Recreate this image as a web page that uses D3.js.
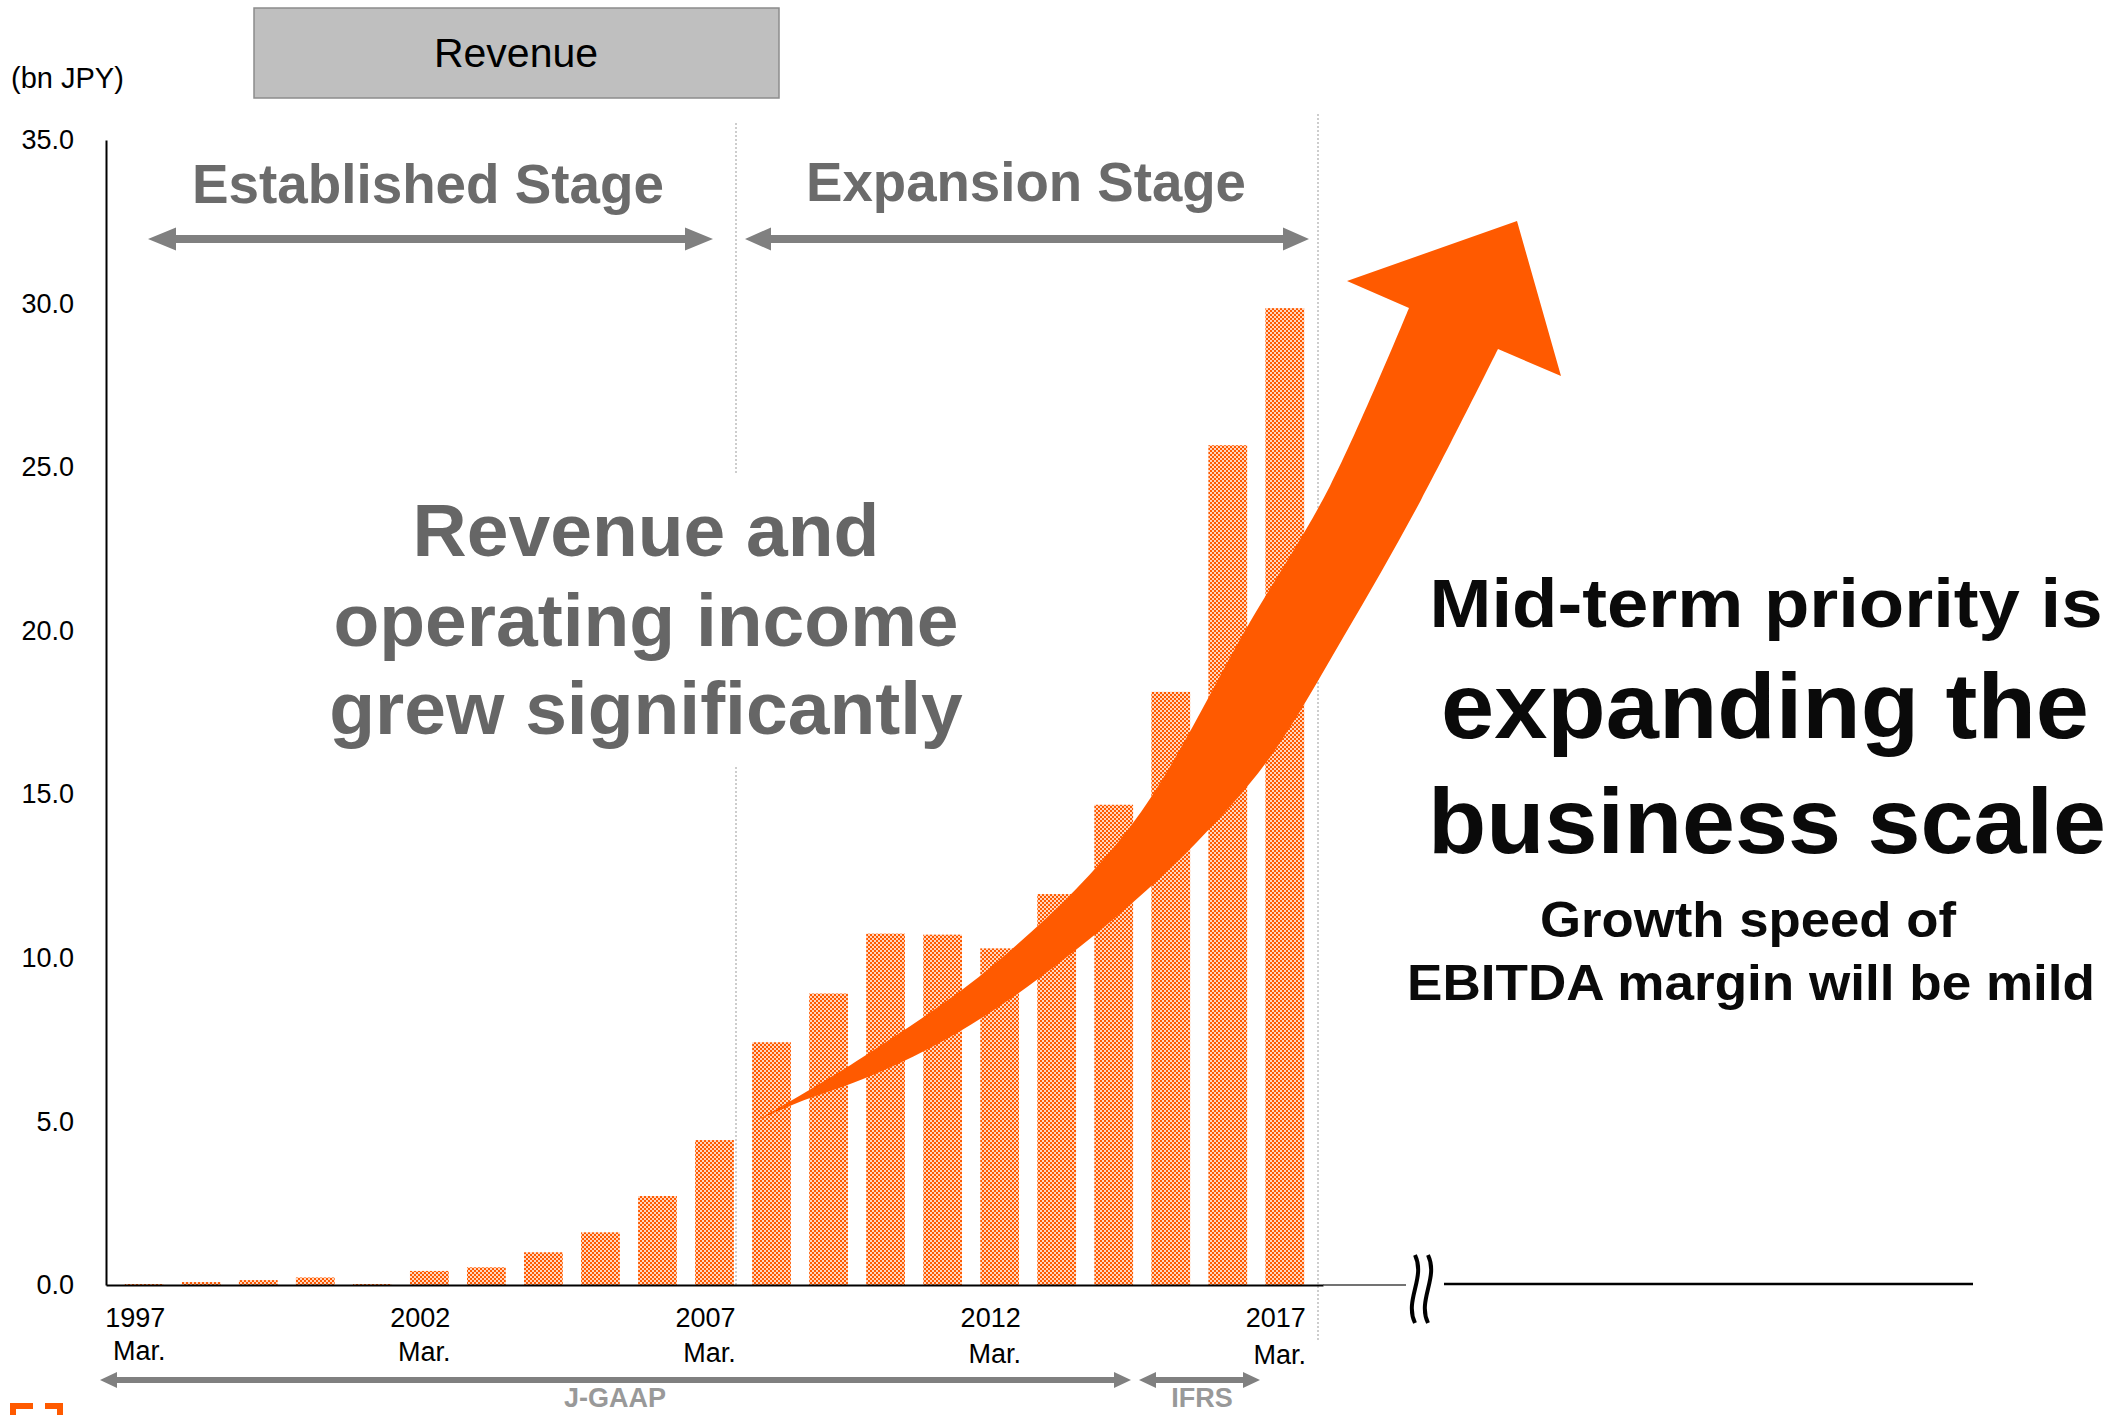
<!DOCTYPE html>
<html>
<head>
<meta charset="utf-8">
<script src="https://cdn.jsdelivr.net/npm/d3@7"></script>
<style>
  html, body { margin: 0; padding: 0; background: #ffffff; }
  svg { display: block; font-family: "Liberation Sans", Arial, sans-serif; }
</style>
</head>
<body>
<svg id="chart" width="2127" height="1415"></svg>
<script>
// ---------------- data ----------------
const fiscalYears = ["1997","1998","1999","2000","2001","2002","2003","2004","2005","2006","2007",
                     "2008","2009","2010","2011","2012","2013","2014","2015","2016","2017"];
const revenue = [0.03, 0.09, 0.15, 0.23, 0.03, 0.43, 0.54, 1.00, 1.61, 2.72, 4.43,
                 7.42, 8.91, 10.74, 10.71, 10.29, 11.95, 14.68, 18.13, 25.67, 29.86];
const yTicks = [0, 5, 10, 15, 20, 25, 30, 35];
const xLabelYears = ["1997", "2002", "2007", "2012", "2017"];
const xLabelSub = "Mar.";
const unitLabel = "(bn JPY)";
const boxTitle = "Revenue";
const stageLabels = ["Established Stage", "Expansion Stage"];
const centerText = ["Revenue and", "operating income", "grew significantly"];
const rightText = ["Mid-term priority is", "expanding the", "business scale", "Growth speed of", "EBITDA margin will be mild"];
const gaapLabels = ["J-GAAP", "IFRS"];

// ---------------- setup ----------------
const ORANGE = "#FF5A00";
const GREY_ARROW = "#808080";
const svg = d3.select("#chart");
const defs = svg.append("defs");
const pat = defs.append("pattern").attr("id", "chk")
  .attr("patternUnits", "userSpaceOnUse").attr("width", 4).attr("height", 4);
pat.append("rect").attr("width", 4).attr("height", 4).attr("fill", "#FFD6BE");
pat.append("rect").attr("x", 0).attr("y", 0).attr("width", 2).attr("height", 2).attr("fill", ORANGE);
pat.append("rect").attr("x", 2).attr("y", 2).attr("width", 2).attr("height", 2).attr("fill", ORANGE);

const x = d3.scaleBand().domain(fiscalYears).range([106, 1323]).paddingInner(0.32).paddingOuter(0.33);
const y = d3.scaleLinear().domain([0, 35]).range([1285, 140]);

// ---------------- dotted stage separators ----------------
svg.append("line").attr("x1", 736).attr("x2", 736).attr("y1", 123).attr("y2", y(0))
  .attr("stroke", "#BDBDBD").attr("stroke-width", 1.5).attr("stroke-dasharray", "2,2");
svg.append("line").attr("x1", 1318).attr("x2", 1318).attr("y1", 114).attr("y2", 1340)
  .attr("stroke", "#BDBDBD").attr("stroke-width", 1.5).attr("stroke-dasharray", "2,2");

// ---------------- bars ----------------
svg.append("g").selectAll("rect").data(fiscalYears).join("rect")
  .attr("x", d => x(d))
  .attr("width", x.bandwidth())
  .attr("y", (d, i) => y(revenue[i]))
  .attr("height", (d, i) => y(0) - y(revenue[i]))
  .attr("fill", "url(#chk)");

// ---------------- axes ----------------
const yAxis = svg.append("g").attr("transform", "translate(106,0)")
  .call(d3.axisLeft(y).tickValues(yTicks).tickSize(0).tickSizeOuter(0).tickPadding(32).tickFormat(d3.format(".1f")));
yAxis.select(".domain").attr("stroke", "#000").attr("stroke-width", 2);
yAxis.selectAll("text").attr("font-size", 27).attr("fill", "#000")
  .attr("font-family", "Liberation Sans, Arial, sans-serif");

const xAxis = svg.append("g").attr("transform", `translate(0,${y(0)})`)
  .call(d3.axisBottom(x).tickValues(xLabelYears).tickSize(0).tickSizeOuter(0).tickFormat(""));
xAxis.select(".domain").attr("stroke", "#000").attr("stroke-width", 2);
xAxis.selectAll(".tick").each(function(d, i) {
  const g = d3.select(this);
  g.append("text").attr("x", -9).attr("y", 42).attr("text-anchor", "middle")
    .attr("font-size", 27).attr("fill", "#000").text(d);
  g.append("text").attr("x", -5).attr("y", 75 + i).attr("text-anchor", "middle")
    .attr("font-size", 27).attr("fill", "#000").text(xLabelSub);
});

// baseline continuation + break mark
svg.append("line").attr("x1", 1323).attr("x2", 1406).attr("y1", y(0)).attr("y2", y(0))
  .attr("stroke", "#444").attr("stroke-width", 1.5);
svg.append("line").attr("x1", 1444).attr("x2", 1973).attr("y1", y(0) - 1).attr("y2", y(0) - 1)
  .attr("stroke", "#000").attr("stroke-width", 2.5);
[1415, 1428].forEach(bx => {
  svg.append("path")
    .attr("d", `M${bx},1255 C${bx + 11},1278 ${bx - 11},1300 ${bx},1323`)
    .attr("fill", "none").attr("stroke", "#000").attr("stroke-width", 4);
});

// ---------------- labels top ----------------
svg.append("text").attr("x", 11).attr("y", 88).attr("font-size", 29).attr("fill", "#000").text(unitLabel);

svg.append("rect").attr("x", 254).attr("y", 8).attr("width", 525).attr("height", 90)
  .attr("fill", "#BFBFBF").attr("stroke", "#8C8C8C").attr("stroke-width", 1.5);
svg.append("text").attr("x", 516).attr("y", 67).attr("text-anchor", "middle")
  .attr("font-size", 41).attr("fill", "#000").text(boxTitle);

svg.append("text").attr("x", 428).attr("y", 203).attr("text-anchor", "middle")
  .attr("font-size", 56).attr("font-weight", "bold").attr("fill", "#6B6B6B")
  .attr("textLength", 472).attr("lengthAdjust", "spacingAndGlyphs").text(stageLabels[0]);
svg.append("text").attr("x", 1026).attr("y", 201).attr("text-anchor", "middle")
  .attr("font-size", 56).attr("font-weight", "bold").attr("fill", "#6B6B6B")
  .attr("textLength", 440).attr("lengthAdjust", "spacingAndGlyphs").text(stageLabels[1]);

function doubleArrow(x1, x2, cy, shaft, hl, hh, color) {
  const s = shaft / 2, h = hh / 2;
  const d = `M${x1},${cy} L${x1 + hl},${cy - h} L${x1 + hl},${cy - s} L${x2 - hl},${cy - s} L${x2 - hl},${cy - h}
             L${x2},${cy} L${x2 - hl},${cy + h} L${x2 - hl},${cy + s} L${x1 + hl},${cy + s} L${x1 + hl},${cy + h} Z`;
  svg.append("path").attr("d", d).attr("fill", color);
}
doubleArrow(148, 713, 239, 8, 28, 23, GREY_ARROW);
doubleArrow(745, 1309, 239, 8, 26, 23, GREY_ARROW);
doubleArrow(100, 1131, 1380, 6, 17, 16, GREY_ARROW);
doubleArrow(1139, 1260, 1380, 6, 17, 16, GREY_ARROW);

svg.append("text").attr("x", 615).attr("y", 1407).attr("text-anchor", "middle")
  .attr("font-size", 27).attr("font-weight", "bold").attr("fill", "#999").text(gaapLabels[0]);
svg.append("text").attr("x", 1202).attr("y", 1407).attr("text-anchor", "middle")
  .attr("font-size", 27).attr("font-weight", "bold").attr("fill", "#999").text(gaapLabels[1]);

// ---------------- centre text ----------------
svg.append("rect").attr("x", 320).attr("y", 475).attr("width", 655).attr("height", 291).attr("fill", "#fff");
const cBase = [556, 646, 734];
centerText.forEach((t, i) => {
  svg.append("text").attr("x", 646).attr("y", cBase[i]).attr("text-anchor", "middle")
    .attr("font-size", 75).attr("font-weight", "bold").attr("fill", "#666").text(t);
});

// ---------------- orange growth arrow ----------------
const upperEdge = [[756,1121],[863,1057],[997,962],[1130,827],[1250,622],[1330,486],[1409,308]];
const lowerEdge = [[1498,349],[1421,500],[1344,636],[1268,760],[1197,842],[1130,905],[1063,960],[997,1008],[930,1048],[863,1079],[797,1103],[756,1121]];
const headPts = [[1347,281],[1517,221],[1561,376]];
const edge = d3.line().curve(d3.curveCatmullRom.alpha(0.5));
let dPath = edge(upperEdge);
headPts.forEach(p => { dPath += `L${p[0]},${p[1]}`; });
dPath += edge(lowerEdge).replace(/^M/, "L") + "Z";
svg.append("path").attr("d", dPath).attr("fill", ORANGE);

// ---------------- right text ----------------
const rSpec = [
  {x: 1766, y: 627, fs: 68, w: 673},
  {x: 1765, y: 738, fs: 92, w: 648},
  {x: 1767, y: 853, fs: 92, w: 678},
  {x: 1748, y: 937, fs: 50, w: 416},
  {x: 1751, y: 1000, fs: 50, w: 688}
];
rightText.forEach((t, i) => {
  const s = rSpec[i];
  svg.append("text").attr("x", s.x).attr("y", s.y).attr("text-anchor", "middle")
    .attr("font-size", s.fs).attr("font-weight", "bold").attr("fill", "#0a0a0a")
    .attr("textLength", s.w).attr("lengthAdjust", "spacingAndGlyphs").text(t);
});

// ---------------- corner brackets (logo fragment) ----------------
svg.append("path").attr("d", "M10,1415 L10,1403 L33,1403 L33,1409 L16,1409 L16,1415 Z").attr("fill", ORANGE);
svg.append("path").attr("d", "M45,1403 L63,1403 L63,1415 L57,1415 L57,1409 L45,1409 Z").attr("fill", ORANGE);
</script>
</body>
</html>
